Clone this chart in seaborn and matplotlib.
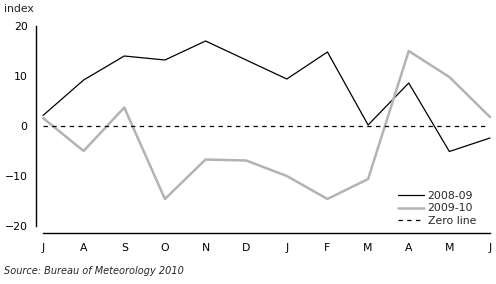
import matplotlib
matplotlib.use("Agg")
import matplotlib.pyplot as plt
import seaborn as sns
import numpy as np
import pandas as pd

months = ["J", "A", "S", "O", "N", "D", "J", "F", "M", "A", "M", "J"]
s2008 = [2.1, 9.2, 14.0, 13.2, 17.0, 13.2, 9.4, 14.8, 0.2, 8.6, -5.1, -2.4]
s2009 = [1.6, -5.0, 3.7, -14.6, -6.7, -6.9, -10.0, -14.6, -10.6, 15.0, 9.8, 1.8]

sns.set_style("white")
plt.rcParams['font.family'] = ['DejaVu Sans']

W, H = 496, 284
fig = plt.figure(figsize=(W / 100, H / 100), dpi=100)
x0, x1 = 43, 490
ytop, ybot = 26, 226
ax = fig.add_axes([x0 / W, 1 - ybot / H, (x1 - x0) / W, (ybot - ytop) / H])

pos = np.arange(len(months))
df = pd.DataFrame({"pos": np.concatenate([pos, pos]),
                   "value": s2008 + s2009,
                   "series": ["2008-09"] * len(pos) + ["2009-10"] * len(pos)})

sns.lineplot(data=df[df.series == "2008-09"], x="pos", y="value", color="black",
             linewidth=0.9, ax=ax, label="2008-09", clip_on=False)
sns.lineplot(data=df[df.series == "2009-10"], x="pos", y="value", color="#b3b3b3",
             linewidth=1.8, ax=ax, label="2009-10", clip_on=False)
ax.axhline(0, xmax=0.99, color="black", linestyle=(0, (3.5, 3.5)), linewidth=0.9,
           label="Zero line")

ax.set_xlim(0, len(months) - 1)
ax.set_ylim(-20, 20)
ax.set_yticks([-20, -10, 0, 10, 20])
ax.set_yticklabels(["\u221220", "\u221210", "0", "10", "20"])
ax.set_xticks(pos)
ax.set_xticklabels(months)
ax.set_xlabel("")
ax.set_ylabel("")

for s in ["top", "right"]:
    ax.spines[s].set_visible(False)
ax.spines["left"].set_position(("outward", 5.0))
ax.spines["bottom"].set_position(("outward", 5.0))
ax.spines["left"].set_bounds(-20, 20)
ax.spines["bottom"].set_bounds(0, len(months) - 1)
for s in ["left", "bottom"]:
    ax.spines[s].set_linewidth(1.0)
    ax.spines[s].set_color("black")
ax.tick_params(axis="both", which="both", direction="out", length=4, width=1.0,
               color="black", labelsize=7.8, labelcolor="black", pad=2)
ax.tick_params(axis="x", pad=3)

leg = ax.legend(loc="lower right", frameon=False, fontsize=7.8, handlelength=2.4,
                handletextpad=0.3, labelspacing=0.25, borderpad=0, borderaxespad=0,
                bbox_to_anchor=(476 / W, 1 - 226 / H), bbox_transform=fig.transFigure)

fig.text(4 / W, 1 - 12 / H, "index", fontsize=7.8, ha="left", va="baseline")
fig.text(4 / W, 1 - 274 / H, "Source: Bureau of Meteorology 2010", fontsize=7,
         style="italic", ha="left", va="baseline")

fig.savefig("out.png", dpi=100)
